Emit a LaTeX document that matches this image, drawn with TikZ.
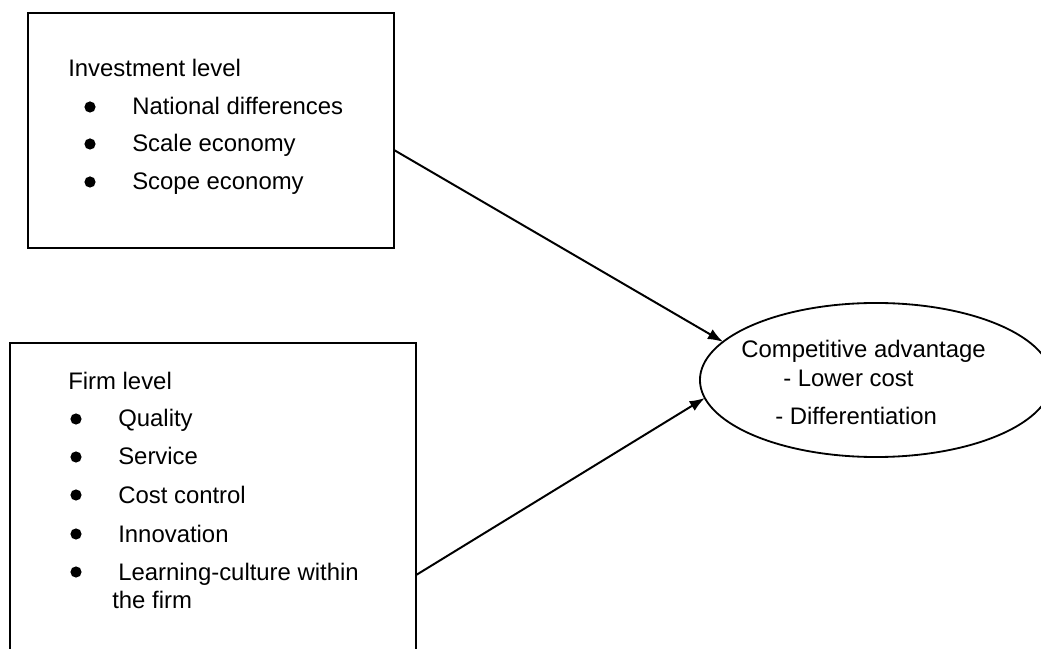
\documentclass[tikz,border=0pt]{standalone}
\usepackage{fontspec}
\setmainfont{Liberation Sans}
\usetikzlibrary{positioning,arrows.meta,calc,shapes}

\tikzset{
  levelbox/.style={draw, line width=1.5pt, inner sep=0pt, outer sep=0pt},
  itemdot/.style={circle, fill, inner sep=0pt, minimum size=0.28cm},
  txt/.style={anchor=base west, inner sep=0pt, font=\fontsize{17}{20}\selectfont},
}

\begin{document}
\begin{tikzpicture}[x=0.025cm, y=-0.025cm]
\useasboundingbox (0,0) rectangle (1041,649);
\clip (0,0) rectangle (1041,649);

% the two boxes and the ellipse
\node (inv) [levelbox, minimum width=9.15cm, minimum height=5.875cm] at (211,130.5) {};
\node (firm) [levelbox, minimum width=10.15cm, minimum height=7.925cm] at (213,501.5) {};
\node (adv) [ellipse, draw, line width=1.3pt, inner sep=0pt, outer sep=0pt,
  minimum width=8.8cm, minimum height=3.85cm] at (876,380) {};

% investment level
\node (invhead) [txt] at (68,77) {Investment level};
\foreach \y/\t [count=\i] in {115/National differences, 152/Scale economy, 190/Scope economy}
{
  \node (invdot-\i) [itemdot] at (90,\y-8) {};
  \node (invitem-\i) [txt] at (132,\y) {\t};
}

% firm level
\node (firmhead) [txt] at (68,390) {Firm level};
\foreach \y/\t [count=\i] in {427/Quality, 465/Service, 503/Cost control, 542/Innovation, 580/Learning-culture within}
{
  \node (firmdot-\i) [itemdot] at (76,\y-8) {};
  \node (firmitem-\i) [txt] at (118,\y) {\t};
}
\node (firmitem-6) [txt] at (112,608) {the firm};

% competitive advantage
\node (advhead) [txt] at (741,358) {Competitive advantage};
\node (advcost) [txt] at (783,387) {- Lower cost};
\node (advdiff) [txt] at (775,425) {- Differentiation};

\path[-{Latex[length=0.38cm, width=0.28cm]}, line width=1.4pt]
($(inv.north east)!0.583!(inv.south east)$) edge (adv.166)
($(firm.north east)!0.732!(firm.south east)$) edge (adv.186.6);
\end{tikzpicture}
\end{document}
